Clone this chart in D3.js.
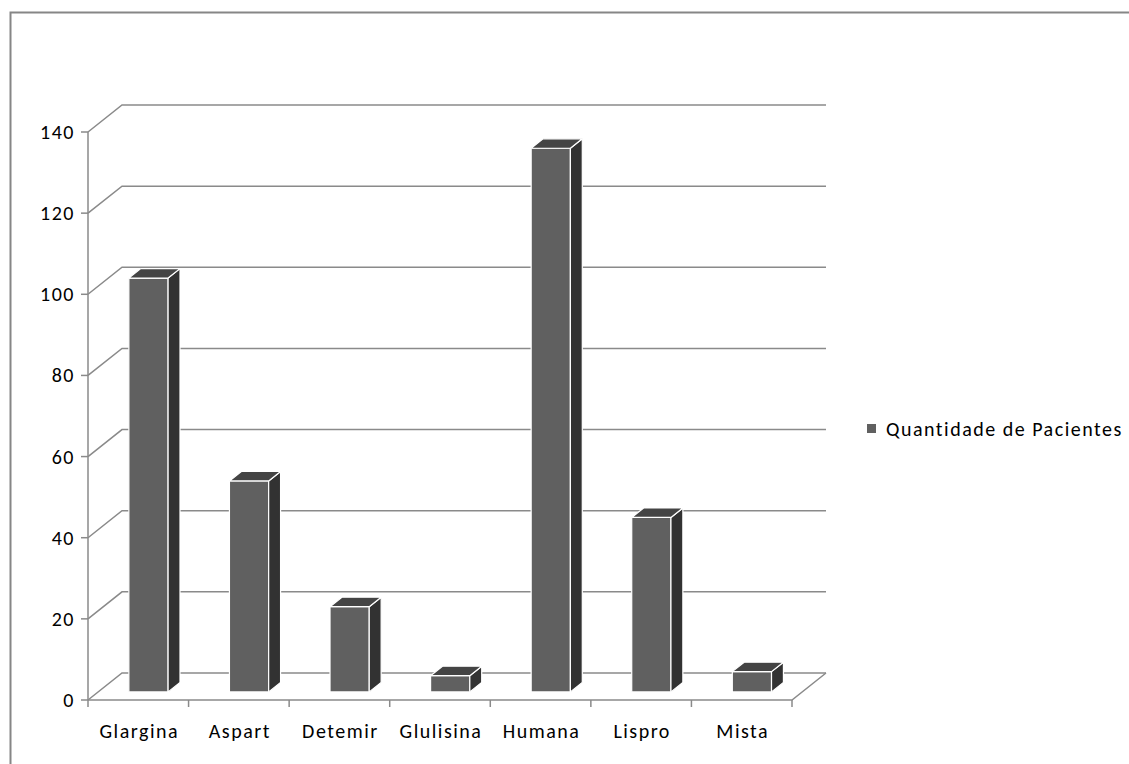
<!DOCTYPE html>
<html>
<head>
<meta charset="utf-8">
<script src="https://cdn.jsdelivr.net/npm/d3@7"></script>
<style>
  html, body { margin: 0; padding: 0; background: #fff; }
  svg { display: block; }
  text { font-family: Carlito, Lato, "Open Sans", sans-serif; fill: #000; letter-spacing: 1.5px; }
</style>
</head>
<body>
<svg id="chart" width="1129" height="764"></svg>
<script>
// Insulin types and number of patients using each
const categories = ["Glargina", "Aspart", "Detemir", "Glulisina", "Humana", "Lispro", "Mista"];
const patients = [102, 52, 21, 4, 134, 43, 5];
const yTicks = [0, 20, 40, 60, 80, 100, 120, 140];
const seriesName = "Quantidade de Pacientes";

const svg = d3.select("#chart");

// Outer chart frame
svg.append("rect")
  .attr("x", 10.5).attr("y", 12.5)
  .attr("width", 1300).attr("height", 900)
  .attr("fill", "none").attr("stroke", "#868686").attr("stroke-width", 2);

// Front plane scales; the depth axis shifts points up and to the right
const x = d3.scaleBand().domain(categories).range([88, 792]);
const y = d3.scaleLinear().domain([0, 140]).range([700, 132]);
const DX = 34, DY = 27;
const proj = (sx, sy, z) => [sx + z * DX, sy - z * DY];

const gridColor = "#8a8a8a";
const grid = svg.append("g").attr("stroke", gridColor).attr("stroke-width", 1.5).attr("fill", "none");

// Side wall diagonals and back wall gridlines
yTicks.forEach(t => {
  const p0 = proj(x.range()[0], y(t), 0);
  const p1 = proj(x.range()[0], y(t), 1);
  const p2 = proj(x.range()[1], y(t), 1);
  grid.append("path").attr("d", d3.line()([p0, p1, p2]));
});

// Floor front edge and right edge
{
  const a = proj(x.range()[0], y(0), 0);
  const b = proj(x.range()[1], y(0), 0);
  const c = proj(x.range()[1], y(0), 1);
  grid.append("path").attr("d", d3.line()([a, b, c]));
}

// Vertical axis line
grid.append("line")
  .attr("x1", 88).attr("x2", 88)
  .attr("y1", y(140)).attr("y2", y(0));

// Value ticks and labels
const yAxis = svg.append("g");
yTicks.forEach(t => {
  yAxis.append("line")
    .attr("x1", 81).attr("x2", 88)
    .attr("y1", y(t)).attr("y2", y(t))
    .attr("stroke", gridColor).attr("stroke-width", 1.5);
  yAxis.append("text")
    .attr("x", 75).attr("y", y(t))
    .attr("text-anchor", "end").attr("dominant-baseline", "central")
    .attr("font-size", 20)
    .text(t);
});

// Category ticks and labels
const xAxis = svg.append("g");
const edges = categories.map(c => x(c)).concat([x.range()[1]]);
edges.forEach(e => {
  xAxis.append("line")
    .attr("x1", e).attr("x2", e)
    .attr("y1", y(0)).attr("y2", y(0) + 7)
    .attr("stroke", gridColor).attr("stroke-width", 1.5);
});
categories.forEach(c => {
  xAxis.append("text")
    .attr("x", x(c) + x.bandwidth() / 2 + 1).attr("y", 738)
    .attr("text-anchor", "middle")
    .attr("font-size", 20)
    .text(c);
});

// 3D columns
const zFront = 0.3, zBack = 0.65;
const barW = x.bandwidth() * 0.39;
const bars = svg.append("g").attr("stroke", "#fff").attr("stroke-width", 1.2).attr("stroke-linejoin", "round");

categories.forEach((c, i) => {
  const cx = x(c) + x.bandwidth() / 2;
  const l = cx - barW / 2, r = cx + barW / 2;
  const top = y(patients[i]), bot = y(0);
  const fTL = proj(l, top, zFront), fTR = proj(r, top, zFront);
  const fBL = proj(l, bot, zFront), fBR = proj(r, bot, zFront);
  const bTL = proj(l, top, zBack), bTR = proj(r, top, zBack);
  const bBR = proj(r, bot, zBack);
  const g = bars.append("g");
  g.append("path").attr("fill", "#606060")
    .attr("d", d3.line()([fTL, fTR, fBR, fBL]) + "Z");
  g.append("path").attr("fill", "#323232")
    .attr("d", d3.line()([fTR, bTR, bBR, fBR]) + "Z");
  g.append("path").attr("fill", "#444444")
    .attr("d", d3.line()([fTL, bTL, bTR, fTR]) + "Z");
});

// Legend
const legend = svg.append("g");
legend.append("rect")
  .attr("x", 867).attr("y", 424).attr("width", 9).attr("height", 9)
  .attr("fill", "#606060");
legend.append("text")
  .attr("x", 886).attr("y", 429)
  .attr("dominant-baseline", "central")
  .attr("font-size", 20)
  .text(seriesName);
</script>
</body>
</html>
